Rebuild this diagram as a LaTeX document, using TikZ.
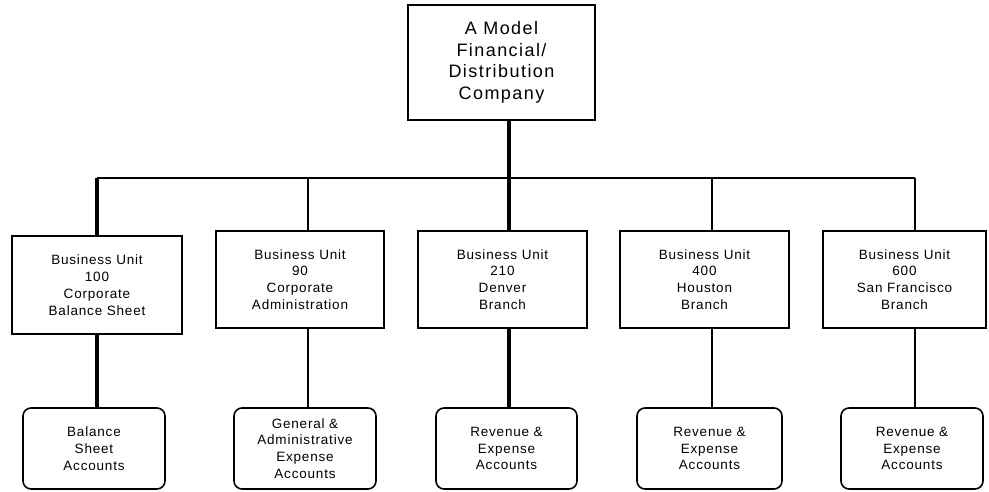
\documentclass[tikz,border=0pt]{standalone}
\usepackage{fontspec}
\setmainfont{Liberation Sans}
\newfontfamily\bigf[LetterSpace=8]{Liberation Sans}
\newfontfamily\smallf[LetterSpace=6]{Liberation Sans}
\begin{document}
\begin{tikzpicture}[x=1pt,y=-1pt,
  topbox/.style={draw,line width=1.6pt,inner sep=0pt,align=center,
    font=\fontsize{18}{21.5}\bigf},
  unitbox/.style={draw,line width=1.6pt,inner sep=0pt,align=center,
    minimum height=97pt,font=\fontsize{13.5}{16.8}\smallf},
  acctbox/.style={draw,line width=1.6pt,inner sep=0pt,align=center,rounded corners=8pt,
    minimum height=81pt,font=\fontsize{13.5}{16.8}\smallf},
  thinl/.style={line width=1.6pt},
  thickl/.style={line width=3.6pt}]
\useasboundingbox[fill=white] (0,0) rectangle (989,491);

\node[topbox,minimum width=187pt,minimum height=115pt] (top) at (501.5,62.5)
  {A Model\\Financial/\\Distribution\\Company};

\node[unitbox,minimum width=170pt,minimum height=98pt] (u1) at (97,285)
  {Business Unit\\100\\Corporate\\Balance Sheet};
\node[unitbox,minimum width=168pt] (u2) at (300,279.5)
  {Business Unit\\90\\Corporate\\Administration};
\node[unitbox,minimum width=169pt] (u3) at (502.5,279.5)
  {Business Unit\\210\\Denver\\Branch};
\node[unitbox,minimum width=169pt] (u4) at (704.5,279.5)
  {Business Unit\\400\\Houston\\Branch};
\node[unitbox,minimum width=163pt] (u5) at (904.5,279.5)
  {Business Unit\\600\\San Francisco\\Branch};

\node[acctbox,minimum width=142pt] (a1) at (94,448.5)
  {Balance\\Sheet\\Accounts};
\node[acctbox,minimum width=142pt] (a2) at (305,448.5)
  {General \&\\Administrative\\Expense\\Accounts};
\node[acctbox,minimum width=141pt] (a3) at (506.5,448.5)
  {Revenue \&\\Expense\\Accounts};
\node[acctbox,minimum width=145pt] (a4) at (709.5,448.5)
  {Revenue \&\\Expense\\Accounts};
\node[acctbox,minimum width=142pt] (a5) at (912,448.5)
  {Revenue \&\\Expense\\Accounts};

\coordinate (j1) at (97,178);
\coordinate (j2) at (308,178);
\coordinate (j3) at (509,178);
\coordinate (j4) at (712,178);
\coordinate (j5) at (915,178);

\draw[thinl] (j1) -- (j5);
\draw[thickl] (top.south -| j3) -- (u3.north -| j3);
\draw[thickl] (j1) -- (u1.north -| j1);
\draw[thinl] (j2) -- (u2.north -| j2);
\draw[thinl] (j4) -- (u4.north -| j4);
\draw[thinl] (j5) -- (u5.north -| j5);

\draw[thickl] (u1.south -| j1) -- (a1.north -| j1);
\draw[thinl] (u2.south -| j2) -- (a2.north -| j2);
\draw[thickl] (u3.south -| j3) -- (a3.north -| j3);
\draw[thinl] (u4.south -| j4) -- (a4.north -| j4);
\draw[thinl] (u5.south -| j5) -- (a5.north -| j5);
\end{tikzpicture}
\end{document}
